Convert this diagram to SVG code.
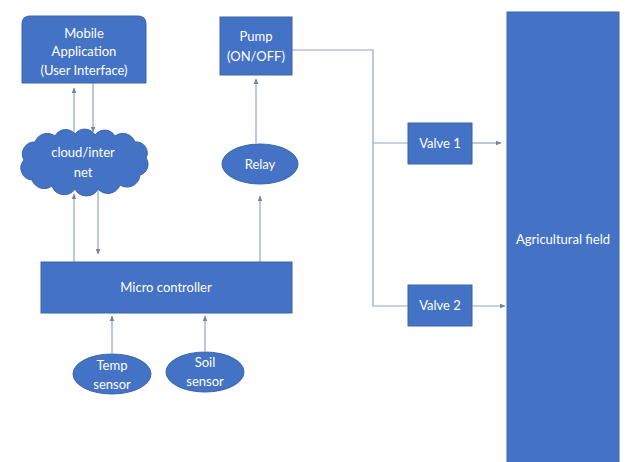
<svg xmlns="http://www.w3.org/2000/svg" width="630" height="462" viewBox="0 0 630 462">
<defs>
<style>
.n{fill:#4472C4;stroke:#3A64AE;stroke-width:1}
.t{font-family:Lato,"Open Sans","Liberation Sans",sans-serif;font-size:13px;fill:#FFFFFF;text-anchor:middle}
.c{fill:none;stroke:#8FA3C4;stroke-width:1.2}
.a{fill:none;stroke:#8FA3C4;stroke-width:1.2;marker-end:url(#ah)}
</style>
<marker id="ah" viewBox="0 0 10 10" refX="9" refY="5" markerWidth="5" markerHeight="5" orient="auto">
<path d="M0,1 L10,5 L0,9 z" fill="#6F83A6"/>
</marker>
</defs>
<rect width="630" height="462" fill="#FFFFFF"/>
<g id="connectors">
<line class="a" x1="74" y1="137" x2="74" y2="88"/>
<line class="a" x1="93" y1="83" x2="93" y2="132"/>
<line class="a" x1="74" y1="262" x2="74" y2="194"/>
<line class="a" x1="98" y1="189" x2="98" y2="254"/>
<line class="a" x1="260" y1="262" x2="260" y2="196"/>
<line class="a" x1="256" y1="143" x2="256" y2="79"/>
<line class="a" x1="112" y1="353" x2="112" y2="316"/>
<line class="a" x1="205" y1="351" x2="205" y2="316"/>
<polyline class="c" points="292,50 373,50 373,306 408,306"/>
<line class="c" x1="373" y1="143" x2="408" y2="143"/>
<line class="a" x1="472" y1="143" x2="501" y2="143"/>
<line class="a" x1="472" y1="306" x2="505" y2="306"/>
</g>
<g id="mobile">
<path class="n" d="M22,83 L22,24 Q22,16 30,16 L138,16 Q146,16 146,24 L146,83 Z"/>
<text class="t" x="84" y="38">Mobile</text>
<text class="t" x="84" y="56">Application</text>
<text class="t" x="84" y="75">(User Interface)</text>
</g>
<g id="cloud">
<path class="n" d="M24,160 A12,12 0 0 1 35,142 A13,13 0 0 1 55,136 A12,12 0 0 1 75,134 A12,12 0 0 1 95,135 A12,12 0 0 1 115,136 A13,13 0 0 1 135,142 A11,11 0 0 1 146,158 A11,11 0 0 1 140,175 A13,13 0 0 1 120,185 A13,13 0 0 1 98,189 A13,13 0 0 1 75,189 A13,13 0 0 1 52,186 A13,13 0 0 1 32,180 A12,12 0 0 1 24,160 Z"/>
<text class="t" x="83" y="157">cloud/inter</text>
<text class="t" x="83" y="177">net</text>
</g>
<g id="pump">
<rect class="n" x="220" y="17" width="72" height="58"/>
<text class="t" x="256" y="41">Pump</text>
<text class="t" x="256" y="61">(ON/OFF)</text>
</g>
<g id="relay">
<ellipse class="n" cx="260" cy="164" rx="38" ry="20"/>
<text class="t" x="260" y="169">Relay</text>
</g>
<g id="micro">
<rect class="n" x="41" y="262" width="251" height="51"/>
<text class="t" x="166" y="292">Micro controller</text>
</g>
<g id="temp">
<ellipse class="n" cx="112" cy="374" rx="39" ry="20"/>
<text class="t" x="112" y="370">Temp</text>
<text class="t" x="112" y="389">sensor</text>
</g>
<g id="soil">
<ellipse class="n" cx="205" cy="372" rx="39" ry="20"/>
<text class="t" x="205" y="367">Soil</text>
<text class="t" x="205" y="386">sensor</text>
</g>
<g id="valve1">
<rect class="n" x="408" y="123" width="64" height="41"/>
<text class="t" x="440" y="148">Valve 1</text>
</g>
<g id="valve2">
<rect class="n" x="408" y="285" width="64" height="41"/>
<text class="t" x="440" y="310">Valve 2</text>
</g>
<g id="field">
<rect class="n" x="507" y="12" width="112" height="452"/>
<text class="t" x="563" y="244">Agricultural field</text>
</g>
</svg>
